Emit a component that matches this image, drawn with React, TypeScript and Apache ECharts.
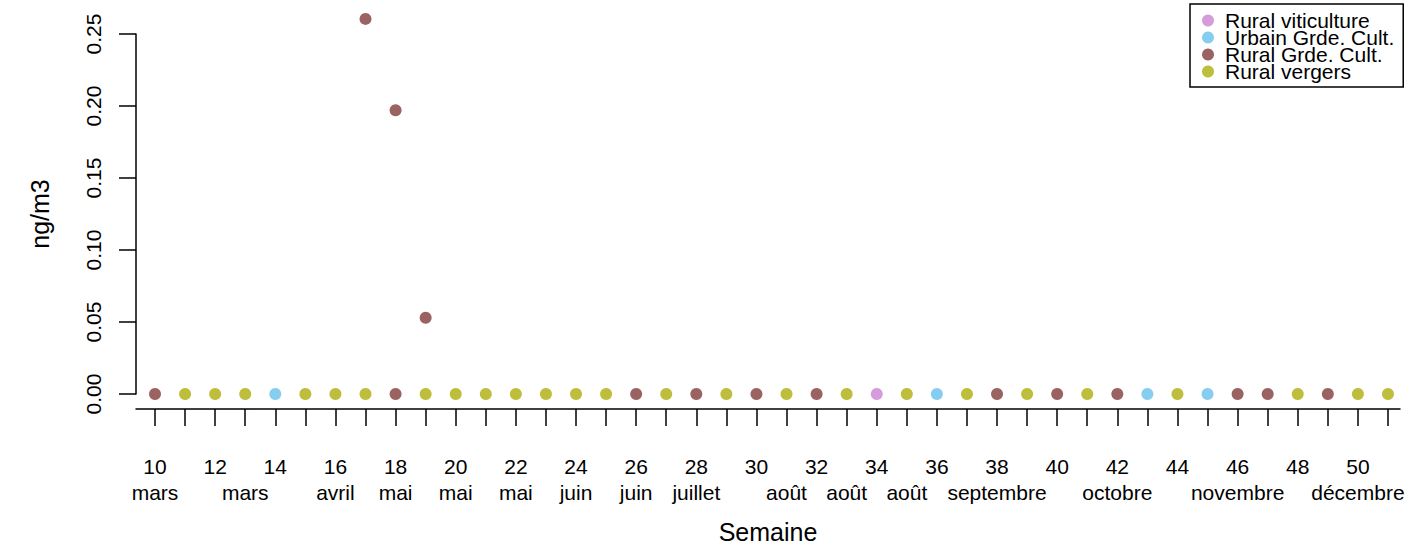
import React, { useEffect, useRef } from "react";
import * as echarts from "echarts";

const FONT = "Liberation Sans, Arial, Helvetica, sans-serif";

const tickWeeks = [10, 11, 12, 13, 14, 15, 16, 17, 18, 19, 20, 21, 22, 23, 24, 25, 26, 27, 28, 29, 30, 31, 32, 33, 34, 35, 36, 37, 38, 39, 40, 41, 42, 43, 44, 45, 46, 47, 48, 49, 50, 51];
const labelWeeks = [10, 12, 14, 16, 18, 20, 22, 24, 26, 28, 30, 32, 34, 36, 38, 40, 42, 44, 46, 48, 50];
const monthWeeks = [10, 13, 16, 18, 20, 22, 24, 26, 28, 31, 33, 35, 38, 42, 46, 50];
const monthNames = ["mars", "mars", "avril", "mai", "mai", "mai", "juin", "juin", "juillet", "août", "août", "août", "septembre", "octobre", "novembre", "décembre"];

const seriesNames = ["Rural viticulture", "Urbain Grde. Cult.", "Rural Grde. Cult.", "Rural vergers"];
const seriesColors = ["#D69BDA", "#87CDEF", "#9B6262", "#BEBE3C"];

const ruralViticulture = [[34, 0]];
const urbainGrdeCult = [[14, 0], [36, 0], [43, 0], [45, 0]];
const ruralGrdeCult = [
  [10, 0], [17, 0.2605], [18, 0], [18, 0.197], [19, 0.053], [26, 0], [28, 0], [30, 0],
  [32, 0], [38, 0], [40, 0], [42, 0], [46, 0], [47, 0], [49, 0],
];
const ruralVergers = [
  [11, 0], [12, 0], [13, 0], [15, 0], [16, 0], [17, 0], [19, 0], [20, 0], [21, 0], [22, 0],
  [23, 0], [24, 0], [25, 0], [27, 0], [29, 0], [31, 0], [33, 0], [35, 0], [37, 0], [39, 0],
  [41, 0], [44, 0], [48, 0], [50, 0], [51, 0],
];

const seriesData = [ruralViticulture, urbainGrdeCult, ruralGrdeCult, ruralVergers];

export default function App() {
  const ref = useRef<HTMLDivElement>(null);
  useEffect(() => {
    if (!ref.current) return;
    const chart = echarts.init(ref.current, undefined, { renderer: "svg" });
    const axisLineStyle = { color: "#000", width: 1.5 };
    const xMin = 9.368;
    const xMax = 51.4;
    chart.setOption({
      animation: false,
      backgroundColor: "#fff",
      textStyle: { fontFamily: FONT },
      grid: { left: 136, right: 15, top: 34, bottom: 155 },
      legend: {
        left: 1190,
        top: 4,
        orient: "vertical",
        icon: "circle",
        itemWidth: 12,
        itemHeight: 12,
        itemGap: -4,
        padding: [6, 9, 5, 12],
        borderColor: "#000",
        borderWidth: 1.5,
        textStyle: { fontSize: 21, color: "#000", fontFamily: FONT, padding: [0, 0, 0, 6] },
        data: seriesNames,
      },
      xAxis: [
        {
          type: "value",
          min: xMin,
          max: xMax,
          offset: 15,
          position: "bottom",
          axisLine: { show: true, onZero: false, lineStyle: axisLineStyle },
          axisTick: { show: true, customValues: tickWeeks, length: 17, lineStyle: axisLineStyle },
          axisLabel: {
            customValues: labelWeeks,
            margin: 47,
            fontSize: 21,
            lineHeight: 21,
            color: "#000",
            fontFamily: FONT,
            formatter: (v: number) => String(v),
          },
          splitLine: { show: false },
          name: "Semaine",
          nameLocation: "middle",
          nameGap: 110,
          nameTextStyle: { fontSize: 25, lineHeight: 25, color: "#000", fontFamily: FONT },
        },
        {
          type: "value",
          min: xMin,
          max: xMax,
          offset: 15,
          position: "bottom",
          axisLine: { show: false, onZero: false },
          axisTick: { show: false },
          axisLabel: {
            customValues: monthWeeks,
            margin: 73,
            fontSize: 21,
            lineHeight: 21,
            color: "#000",
            fontFamily: FONT,
            formatter: (v: number) => monthNames[monthWeeks.indexOf(v)] ?? "",
          },
          splitLine: { show: false },
        },
      ],
      yAxis: {
        type: "value",
        min: 0,
        max: 0.25,
        interval: 0.05,
        axisLine: { show: true, lineStyle: axisLineStyle },
        axisTick: { show: true, length: 17, lineStyle: axisLineStyle },
        axisLabel: {
          rotate: 90,
          align: "center",
          verticalAlign: "bottom",
          margin: 32,
          fontSize: 21,
          lineHeight: 21,
          color: "#000",
          fontFamily: FONT,
          formatter: (v: number) => v.toFixed(2),
        },
        splitLine: { show: false },
        name: "ng/m3",
        nameLocation: "middle",
        nameGap: 84,
        nameTextStyle: { fontSize: 25, lineHeight: 25, color: "#000", fontFamily: FONT },
      },
      series: seriesNames.map((name, i) => ({
        name,
        type: "scatter",
        xAxisIndex: 0,
        yAxisIndex: 0,
        symbol: "circle",
        symbolSize: 12,
        clip: false,
        itemStyle: { color: seriesColors[i], opacity: 1 },
        emphasis: { disabled: true },
        data: seriesData[i],
      })),
    });
    return () => chart.dispose();
  }, []);
  return (
    <div
      ref={ref}
      style={{ position: "fixed", left: 0, top: 0, width: 1415, height: 549, background: "#fff" }}
    />
  );
}
